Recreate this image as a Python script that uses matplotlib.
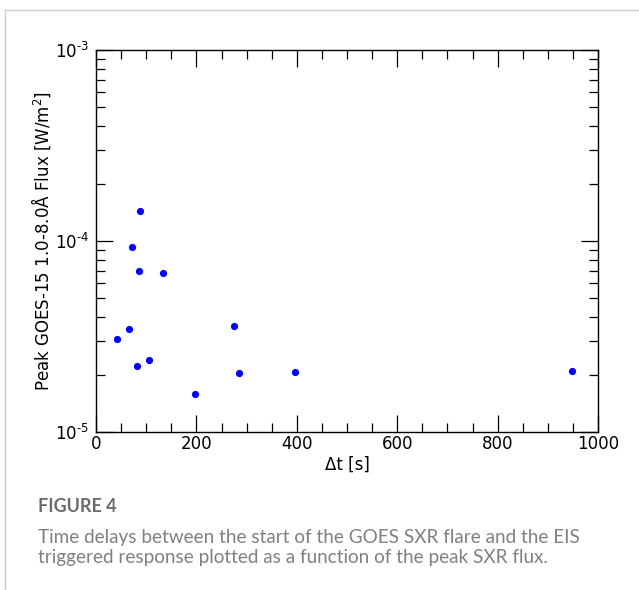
import numpy as np
import matplotlib
matplotlib.use('Agg')
import matplotlib.pyplot as plt
from matplotlib.ticker import MultipleLocator, LogLocator, NullFormatter, FixedLocator, FixedFormatter
from matplotlib.lines import Line2D

# time delay between GOES SXR flare start and EIS trigger [s]
delay = [42, 66, 72, 81, 85, 88, 106, 133, 197, 274, 284, 396, 948]
# peak GOES-15 1.0-8.0 A flux [W/m^2]
peak_flux = [3.07e-5, 3.45e-5, 9.31e-5, 2.22e-5, 6.98e-5, 1.435e-4, 2.39e-5,
             6.79e-5, 1.58e-5, 3.60e-5, 2.04e-5, 2.06e-5, 2.08e-5]

x_ticks = [0, 200, 400, 600, 800, 1000]
y_ticks = [1e-5, 1e-4, 1e-3]
y_tick_labels = [r'$10^{\text{-5}}$', r'$10^{\text{-4}}$', r'$10^{\text{-3}}$']

caption_title = 'FIGURE 4'
caption_lines = ['Time delays between the start of the GOES SXR flare and the EIS',
                 'triggered response plotted as a function of the peak SXR flux.']

fig = plt.figure(figsize=(6.39, 5.90), dpi=100)
W, H = 639, 590

# frame of the figure panel
fig.add_artist(Line2D([4.5 / W, 1.0], [1 - 9.5 / H, 1 - 9.5 / H],
                      transform=fig.transFigure, color='#cccccc', lw=1.0))
fig.add_artist(Line2D([4.5 / W, 4.5 / W], [0.0, 1 - 9.5 / H],
                      transform=fig.transFigure, color='#cccccc', lw=1.0))

ax = fig.add_axes([96 / W, 1 - 432 / H, 502 / W, 382 / H])
ax.plot(delay, peak_flux, 'o', color='#0000ff', markersize=5.2, markeredgewidth=0)

ax.set_yscale('log')
ax.set_xlim(0, 1000)
ax.set_ylim(1e-5, 1e-3)
ax.set_xticks(x_ticks)
ax.xaxis.set_minor_locator(MultipleLocator(50))
ax.yaxis.set_major_locator(FixedLocator(y_ticks))
ax.yaxis.set_major_formatter(FixedFormatter(y_tick_labels))
ax.yaxis.set_minor_locator(LogLocator(base=10, subs=np.arange(2, 10)))
ax.yaxis.set_minor_formatter(NullFormatter())

ax.tick_params(which='both', direction='in', top=True, right=True, colors='black',
               labelsize=12, width=0.9)
ax.tick_params(which='major', length=12.2)
ax.tick_params(which='minor', length=6.5)
ax.tick_params(axis='x', pad=2)
ax.tick_params(axis='y', pad=5)
for s in ax.spines.values():
    s.set_linewidth(1.0)

ax.set_xlabel('\u0394t [s]', fontsize=12, labelpad=2)
ax.set_ylabel('Peak GOES-15 1.0-8.0\u00c5 Flux [W/m$^2$]', fontsize=12, labelpad=1)

# caption
fig.text(38 / W, 1 - 507 / H, caption_title, fontsize=13, color='#6b6b6b',
         fontweight='bold', family='Lato', va='center', ha='left')
for i, line in enumerate(caption_lines):
    fig.text(38 / W, 1 - (537 + 21 * i) / H, line, fontsize=13.6, color='#808080',
             family='Lato', va='center', ha='left')

fig.savefig('out.png', dpi=100)
